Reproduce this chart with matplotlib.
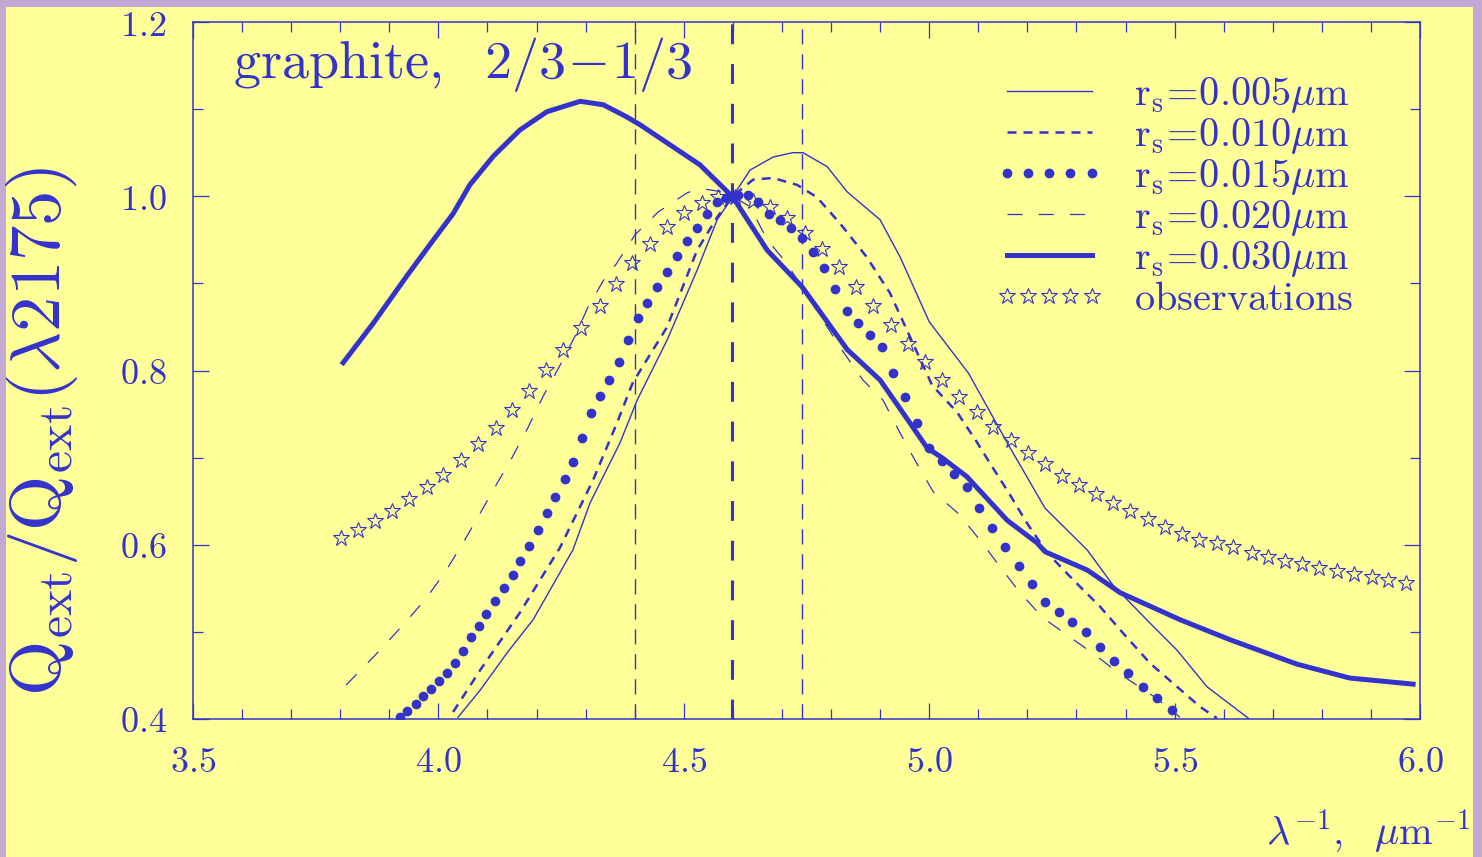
import matplotlib
matplotlib.use("Agg")
import matplotlib.pyplot as plt
from matplotlib.ticker import MultipleLocator, FuncFormatter
from matplotlib.patches import Rectangle

plt.rcParams['mathtext.fontset'] = 'cm'

BLUE = '#3333CC'
YELLOW = '#FFFF99'
LAVENDER = '#C4A8D4'

# r_s = 0.005 um (thin solid)
x005 = [4.040, 4.085, 4.140, 4.193, 4.274, 4.309, 4.370, 4.405, 4.466, 4.527, 4.568, 4.600,
        4.635, 4.682, 4.722, 4.743, 4.792, 4.833, 4.900, 4.941, 5.000, 5.080, 5.159, 5.236,
        5.322, 5.374, 5.450, 5.505, 5.566, 5.650]
y005 = [0.402, 0.433, 0.476, 0.514, 0.594, 0.648, 0.717, 0.766, 0.835, 0.915, 0.973, 1.000,
        1.030, 1.045, 1.050, 1.050, 1.034, 1.005, 0.973, 0.930, 0.856, 0.797, 0.717, 0.642,
        0.594, 0.554, 0.510, 0.479, 0.437, 0.401]

# r_s = 0.010 um (dashed)
x010 = [4.030, 4.085, 4.166, 4.248, 4.315, 4.364, 4.396, 4.466, 4.527, 4.568, 4.600, 4.641,
        4.682, 4.731, 4.771, 4.818, 4.873, 4.920, 5.006, 5.057, 5.097, 5.130, 5.165, 5.199,
        5.240, 5.293, 5.348, 5.399, 5.450, 5.505, 5.552, 5.586]
y010 = [0.408, 0.456, 0.522, 0.597, 0.674, 0.740, 0.786, 0.850, 0.938, 0.976, 1.000, 1.019,
        1.021, 1.013, 0.999, 0.969, 0.930, 0.889, 0.783, 0.752, 0.718, 0.688, 0.657, 0.625,
        0.591, 0.560, 0.529, 0.496, 0.464, 0.437, 0.414, 0.401]

# r_s = 0.015 um (dots)
x015 = [3.922, 3.937, 3.954, 3.969, 3.985, 4.001, 4.017, 4.034, 4.050, 4.066, 4.083, 4.098,
        4.116, 4.134, 4.151, 4.167, 4.185, 4.202, 4.221, 4.238, 4.257, 4.275, 4.293, 4.311,
        4.329, 4.348, 4.368, 4.387, 4.407, 4.426, 4.446, 4.465, 4.486, 4.506, 4.526, 4.547,
        4.567, 4.587, 4.611, 4.631, 4.652, 4.674, 4.696, 4.718, 4.740, 4.763, 4.786, 4.809,
        4.832, 4.855, 4.879, 4.903, 4.927, 4.951, 4.975, 5.000, 5.026, 5.051, 5.077, 5.101,
        5.128, 5.154, 5.183, 5.209, 5.236, 5.264, 5.291, 5.319, 5.348, 5.377, 5.405, 5.436,
        5.464, 5.495]
y015 = [0.402, 0.409, 0.417, 0.426, 0.434, 0.444, 0.453, 0.464, 0.478, 0.494, 0.507, 0.521,
        0.536, 0.550, 0.565, 0.581, 0.599, 0.617, 0.636, 0.655, 0.675, 0.695, 0.722, 0.751,
        0.771, 0.789, 0.810, 0.835, 0.860, 0.878, 0.896, 0.913, 0.931, 0.949, 0.964, 0.980,
        0.993, 0.998, 1.001, 1.001, 0.993, 0.980, 0.973, 0.963, 0.952, 0.936, 0.918, 0.894,
        0.868, 0.855, 0.841, 0.827, 0.797, 0.770, 0.740, 0.711, 0.696, 0.681, 0.666, 0.642,
        0.619, 0.597, 0.576, 0.555, 0.534, 0.523, 0.511, 0.500, 0.483, 0.467, 0.453, 0.437,
        0.424, 0.410]

# r_s = 0.020 um (thin long dashes)
x020 = [3.812, 3.881, 3.928, 3.973, 4.013, 4.050, 4.081, 4.115, 4.150, 4.183, 4.213, 4.246,
        4.278, 4.305, 4.339, 4.362, 4.401, 4.448, 4.507, 4.533, 4.580, 4.600, 4.635, 4.670,
        4.710, 4.818, 4.865, 4.906, 4.941, 4.971, 5.008, 5.059, 5.104, 5.144, 5.185, 5.232,
        5.287, 5.344, 5.385, 5.460, 5.511]
y020 = [0.439, 0.479, 0.508, 0.537, 0.568, 0.602, 0.632, 0.666, 0.700, 0.735, 0.770, 0.804,
        0.839, 0.873, 0.906, 0.922, 0.956, 0.982, 1.004, 1.009, 1.005, 1.000, 0.988, 0.950,
        0.923, 0.827, 0.789, 0.766, 0.728, 0.697, 0.661, 0.636, 0.605, 0.575, 0.545, 0.516,
        0.494, 0.471, 0.453, 0.425, 0.402]

# r_s = 0.030 um (thick solid)
x030 = [3.806, 3.867, 3.935, 3.990, 4.030, 4.064, 4.112, 4.166, 4.221, 4.289, 4.336, 4.384,
        4.411, 4.472, 4.533, 4.600, 4.670, 4.741, 4.833, 4.900, 4.947, 4.996, 5.026, 5.077,
        5.159, 5.220, 5.236, 5.322, 5.389, 5.511, 5.613, 5.749, 5.857, 5.986]
y030 = [0.809, 0.854, 0.908, 0.950, 0.980, 1.013, 1.046, 1.076, 1.097, 1.109, 1.105, 1.091,
        1.082, 1.059, 1.036, 0.999, 0.938, 0.896, 0.824, 0.789, 0.751, 0.711, 0.700, 0.678,
        0.628, 0.602, 0.592, 0.571, 0.545, 0.514, 0.491, 0.463, 0.447, 0.440]

# observations (stars)
xobs = [3.802, 3.836, 3.871, 3.905, 3.940, 3.977, 4.009, 4.046, 4.081, 4.117, 4.150, 4.185,
        4.219, 4.254, 4.291, 4.329, 4.362, 4.394, 4.431, 4.466, 4.500, 4.537, 4.570, 4.604,
        4.641, 4.676, 4.710, 4.747, 4.782, 4.816, 4.851, 4.885, 4.922, 4.957, 4.991, 5.026,
        5.061, 5.097, 5.130, 5.167, 5.201, 5.236, 5.271, 5.305, 5.340, 5.374, 5.409, 5.446,
        5.480, 5.515, 5.550, 5.586, 5.619, 5.658, 5.690, 5.725, 5.760, 5.794, 5.831, 5.866,
        5.902, 5.935, 5.971]
yobs = [0.608, 0.617, 0.627, 0.639, 0.652, 0.666, 0.680, 0.697, 0.716, 0.734, 0.755, 0.776,
        0.801, 0.824, 0.849, 0.874, 0.899, 0.923, 0.945, 0.965, 0.981, 0.992, 0.999, 0.999,
        0.995, 0.988, 0.975, 0.958, 0.939, 0.919, 0.896, 0.874, 0.852, 0.830, 0.810, 0.789,
        0.770, 0.752, 0.735, 0.720, 0.705, 0.693, 0.679, 0.669, 0.658, 0.648, 0.639, 0.630,
        0.620, 0.612, 0.605, 0.602, 0.597, 0.591, 0.586, 0.581, 0.578, 0.573, 0.570, 0.566,
        0.563, 0.560, 0.556]

vlines_side = [4.40, 4.74]
vline_peak = 4.598

labels = [r'$\mathrm{r_s\!=\!0.005}\mu\mathrm{m}$',
          r'$\mathrm{r_s\!=\!0.010}\mu\mathrm{m}$',
          r'$\mathrm{r_s\!=\!0.015}\mu\mathrm{m}$',
          r'$\mathrm{r_s\!=\!0.020}\mu\mathrm{m}$',
          r'$\mathrm{r_s\!=\!0.030}\mu\mathrm{m}$',
          r'$\mathrm{observations}$']

fig = plt.figure(figsize=(14.82, 8.57), dpi=100)
fig.patch.set_facecolor(LAVENDER)
fig.patches.append(Rectangle((6 / 1482, 0), 1467 / 1482, 1 - 7 / 857,
                             transform=fig.transFigure, facecolor=YELLOW,
                             edgecolor='none', zorder=-10))

ax = fig.add_axes([193 / 1482, 1 - 719 / 857, 1227 / 1482, 697 / 857])
ax.set_facecolor('none')

for xv in vlines_side:
    ax.axvline(xv, color=BLUE, lw=1.0, ls=(0, (11, 7)))
ax.axvline(vline_peak, color=BLUE, lw=2.2, ls=(0, (6.5, 6.5)))

ax.plot(x005, y005, color=BLUE, lw=1.0, label=labels[0])
ax.plot(x010, y010, color=BLUE, lw=1.8, ls=(0, (3.6, 2.8)), label=labels[1])
ax.plot(x015, y015, color=BLUE, ls='none', marker='o', ms=6, mec=BLUE, mfc=BLUE,
        label=labels[2])
ax.plot(x020, y020, color=BLUE, lw=0.9, ls=(0, (12, 13)), label=labels[3])
ax.plot(x030, y030, color=BLUE, lw=3.6, solid_joinstyle='round', label=labels[4])
ax.plot(xobs, yobs, color=BLUE, ls='none', marker='*', ms=12, mfc='none', mec=BLUE,
        mew=0.8, label=labels[5])

ax.set_xlim(3.5, 6.0)
ax.set_ylim(0.4, 1.2)
ax.xaxis.set_major_locator(MultipleLocator(0.5))
ax.xaxis.set_minor_locator(MultipleLocator(0.1))
ax.yaxis.set_major_locator(MultipleLocator(0.2))
ax.yaxis.set_minor_locator(MultipleLocator(0.1))
fmt = FuncFormatter(lambda v, p: r'$%.1f$' % v)
ax.xaxis.set_major_formatter(fmt)
ax.yaxis.set_major_formatter(fmt)
ax.tick_params(which='both', direction='in', top=True, right=True, color=BLUE,
               width=0.9, labelcolor=BLUE, labelsize=26)
ax.tick_params(which='major', length=11.5, pad=19)
ax.tick_params(which='minor', length=7)
for s in ax.spines.values():
    s.set_color(BLUE)
    s.set_linewidth(1.1)

ax.text(0.033, 0.92, r'$\mathrm{graphite,\ \ 2/3\!-\!1/3}$', transform=ax.transAxes,
        color=BLUE, fontsize=39, va='baseline', ha='left')

leg = ax.legend(loc='upper left', bbox_to_anchor=(0.6536, 0.925), frameon=False,
                fontsize=29, handlelength=2.7, handletextpad=0.75, labelspacing=0.0,
                borderpad=0, borderaxespad=0, numpoints=5)
for t in leg.get_texts():
    t.set_color(BLUE)

fig.text(42 / 1482, 1 - 431 / 857, r'$\mathrm{Q_{ext}/Q_{ext}(}\lambda\mathrm{2175)}$',
         rotation=90, color=BLUE, fontsize=51, ha='center', va='center')
fig.text(1470 / 1482, 12 / 857, r'$\lambda^{-1},\ \ \mu\mathrm{m}^{-1}$',
         color=BLUE, fontsize=29, ha='right', va='baseline')

fig.savefig('out.png', dpi=100, facecolor=fig.get_facecolor())
